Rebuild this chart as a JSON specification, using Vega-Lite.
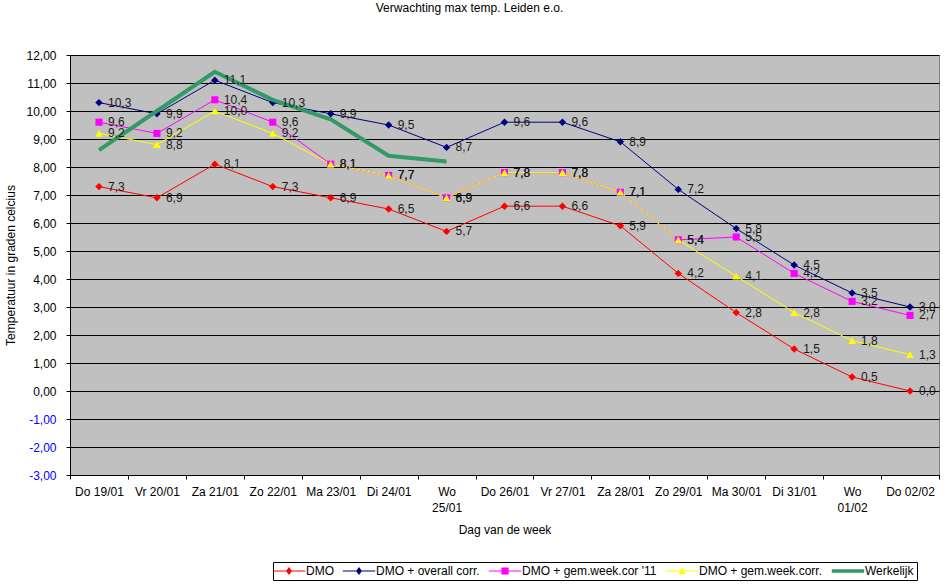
{
  "$schema": "https://vega.github.io/schema/vega-lite/v6.json",
  "autosize": {"type": "none"},
  "width": 869,
  "height": 420,
  "padding": {"left": 70, "top": 55, "right": 10, "bottom": 113},
  "title": {
    "text": "Verwachting max temp. Leiden e.o.",
    "font": "Liberation Sans",
    "fontSize": 12,
    "fontWeight": "normal",
    "color": "black",
    "anchor": "middle",
    "offset": 34,
    "dx": -35
  },
  "datasets": {
    "rows": [
      {"day": "Do 19/01", "series": "DMO", "value": 7.3},
      {"day": "Vr 20/01", "series": "DMO", "value": 6.9},
      {"day": "Za 21/01", "series": "DMO", "value": 8.1},
      {"day": "Zo 22/01", "series": "DMO", "value": 7.3},
      {"day": "Ma 23/01", "series": "DMO", "value": 6.9},
      {"day": "Di 24/01", "series": "DMO", "value": 6.5},
      {"day": "Wo 25/01", "series": "DMO", "value": 5.7},
      {"day": "Do 26/01", "series": "DMO", "value": 6.6},
      {"day": "Vr 27/01", "series": "DMO", "value": 6.6},
      {"day": "Za 28/01", "series": "DMO", "value": 5.9},
      {"day": "Zo 29/01", "series": "DMO", "value": 4.2},
      {"day": "Ma 30/01", "series": "DMO", "value": 2.8},
      {"day": "Di 31/01", "series": "DMO", "value": 1.5},
      {"day": "Wo 01/02", "series": "DMO", "value": 0.5},
      {"day": "Do 02/02", "series": "DMO", "value": 0.0},
      {"day": "Do 19/01", "series": "DMO + overall corr.", "value": 10.3},
      {"day": "Vr 20/01", "series": "DMO + overall corr.", "value": 9.9},
      {"day": "Za 21/01", "series": "DMO + overall corr.", "value": 11.1},
      {"day": "Zo 22/01", "series": "DMO + overall corr.", "value": 10.3},
      {"day": "Ma 23/01", "series": "DMO + overall corr.", "value": 9.9},
      {"day": "Di 24/01", "series": "DMO + overall corr.", "value": 9.5},
      {"day": "Wo 25/01", "series": "DMO + overall corr.", "value": 8.7},
      {"day": "Do 26/01", "series": "DMO + overall corr.", "value": 9.6},
      {"day": "Vr 27/01", "series": "DMO + overall corr.", "value": 9.6},
      {"day": "Za 28/01", "series": "DMO + overall corr.", "value": 8.9},
      {"day": "Zo 29/01", "series": "DMO + overall corr.", "value": 7.2},
      {"day": "Ma 30/01", "series": "DMO + overall corr.", "value": 5.8},
      {"day": "Di 31/01", "series": "DMO + overall corr.", "value": 4.5},
      {"day": "Wo 01/02", "series": "DMO + overall corr.", "value": 3.5},
      {"day": "Do 02/02", "series": "DMO + overall corr.", "value": 3.0},
      {"day": "Do 19/01", "series": "DMO + gem.week.cor '11", "value": 9.6},
      {"day": "Vr 20/01", "series": "DMO + gem.week.cor '11", "value": 9.2},
      {"day": "Za 21/01", "series": "DMO + gem.week.cor '11", "value": 10.4},
      {"day": "Zo 22/01", "series": "DMO + gem.week.cor '11", "value": 9.6},
      {"day": "Ma 23/01", "series": "DMO + gem.week.cor '11", "value": 8.1},
      {"day": "Di 24/01", "series": "DMO + gem.week.cor '11", "value": 7.7},
      {"day": "Wo 25/01", "series": "DMO + gem.week.cor '11", "value": 6.9},
      {"day": "Do 26/01", "series": "DMO + gem.week.cor '11", "value": 7.8},
      {"day": "Vr 27/01", "series": "DMO + gem.week.cor '11", "value": 7.8},
      {"day": "Za 28/01", "series": "DMO + gem.week.cor '11", "value": 7.1},
      {"day": "Zo 29/01", "series": "DMO + gem.week.cor '11", "value": 5.4},
      {"day": "Ma 30/01", "series": "DMO + gem.week.cor '11", "value": 5.5},
      {"day": "Di 31/01", "series": "DMO + gem.week.cor '11", "value": 4.2},
      {"day": "Wo 01/02", "series": "DMO + gem.week.cor '11", "value": 3.2},
      {"day": "Do 02/02", "series": "DMO + gem.week.cor '11", "value": 2.7},
      {"day": "Do 19/01", "series": "DMO + gem.week.corr.", "value": 9.2},
      {"day": "Vr 20/01", "series": "DMO + gem.week.corr.", "value": 8.8},
      {"day": "Za 21/01", "series": "DMO + gem.week.corr.", "value": 10.0},
      {"day": "Zo 22/01", "series": "DMO + gem.week.corr.", "value": 9.2},
      {"day": "Ma 23/01", "series": "DMO + gem.week.corr.", "value": 8.1},
      {"day": "Di 24/01", "series": "DMO + gem.week.corr.", "value": 7.7},
      {"day": "Wo 25/01", "series": "DMO + gem.week.corr.", "value": 6.9},
      {"day": "Do 26/01", "series": "DMO + gem.week.corr.", "value": 7.8},
      {"day": "Vr 27/01", "series": "DMO + gem.week.corr.", "value": 7.8},
      {"day": "Za 28/01", "series": "DMO + gem.week.corr.", "value": 7.1},
      {"day": "Zo 29/01", "series": "DMO + gem.week.corr.", "value": 5.4},
      {"day": "Ma 30/01", "series": "DMO + gem.week.corr.", "value": 4.1},
      {"day": "Di 31/01", "series": "DMO + gem.week.corr.", "value": 2.8},
      {"day": "Wo 01/02", "series": "DMO + gem.week.corr.", "value": 1.8},
      {"day": "Do 02/02", "series": "DMO + gem.week.corr.", "value": 1.3},
      {"day": "Do 19/01", "series": "Werkelijk", "value": 8.6},
      {"day": "Vr 20/01", "series": "Werkelijk", "value": 10.0},
      {"day": "Za 21/01", "series": "Werkelijk", "value": 11.4},
      {"day": "Zo 22/01", "series": "Werkelijk", "value": 10.4},
      {"day": "Ma 23/01", "series": "Werkelijk", "value": 9.7},
      {"day": "Di 24/01", "series": "Werkelijk", "value": 8.4},
      {"day": "Wo 25/01", "series": "Werkelijk", "value": 8.2}
    ],
    "legend": [
      {"series": "DMO"},
      {"series": "DMO + overall corr."},
      {"series": "DMO + gem.week.cor '11"},
      {"series": "DMO + gem.week.corr."},
      {"series": "Werkelijk"}
    ]
  },
  "data": {"name": "rows"},
  "encoding": {
    "x": {
      "field": "day",
      "type": "nominal",
      "sort": null,
      "scale": {
        "type": "band",
        "paddingInner": 0,
        "paddingOuter": 0,
        "domain": ["Do 19/01", "Vr 20/01", "Za 21/01", "Zo 22/01", "Ma 23/01", "Di 24/01", "Wo 25/01", "Do 26/01", "Vr 27/01", "Za 28/01", "Zo 29/01", "Ma 30/01", "Di 31/01", "Wo 01/02", "Do 02/02"]
      },
      "axis": {
        "title": "Dag van de week",
        "labelAngle": 0,
        "tickBand": "extent",
        "tickSize": 4,
        "tickColor": "black",
        "domainColor": "black",
        "labelPadding": 7,
        "labelLineHeight": 16,
        "labelExpr": "indexof(datum.label, 'Wo') == 0 ? split(datum.label, ' ') : datum.label",
        "titlePadding": 11
      }
    },
    "y": {
      "field": "value",
      "type": "quantitative",
      "scale": {"domain": [-3, 12], "nice": false},
      "axis": {
        "title": "Temperatuur in graden celcius",
        "values": [-3, -2, -1, 0, 1, 2, 3, 4, 5, 6, 7, 8, 9, 10, 11, 12],
        "format": ".2f",
        "grid": true,
        "gridColor": "black",
        "gridOpacity": 1,
        "tickSize": 4,
        "tickColor": "black",
        "domainColor": "black",
        "labelPadding": 10,
        "labelColor": {"condition": {"test": "datum.value < 0", "value": "#0000FF"}, "value": "black"},
        "titlePadding": 8
      }
    }
  },
  "layer": [
    {
      "transform": [{"filter": "datum.series != 'Werkelijk'"}],
      "mark": {"type": "line", "strokeWidth": 1},
      "encoding": {
        "color": {
          "field": "series",
          "type": "nominal",
          "sort": null,
          "legend": null,
          "scale": {
            "domain": ["DMO", "DMO + overall corr.", "DMO + gem.week.cor '11", "DMO + gem.week.corr.", "Werkelijk"],
            "range": ["#FF0000", "#000080", "#FF00FF", "#FFFF00", "#339966"]
          }
        }
      }
    },
    {
      "transform": [{"filter": "datum.series == 'DMO'"}],
      "mark": {"type": "point", "shape": "diamond", "filled": true, "opacity": 1, "size": 55, "color": "#FF0000"}
    },
    {
      "transform": [{"filter": "datum.series == 'DMO + overall corr.'"}],
      "mark": {"type": "point", "shape": "diamond", "filled": true, "opacity": 1, "size": 55, "color": "#000080"}
    },
    {
      "transform": [{"filter": "datum.series == \"DMO + gem.week.cor '11\""}],
      "mark": {"type": "point", "shape": "square", "filled": true, "opacity": 1, "size": 50, "color": "#FF00FF"}
    },
    {
      "transform": [{"filter": "datum.series == 'DMO + gem.week.corr.'"}],
      "mark": {"type": "point", "shape": "triangle-up", "filled": true, "opacity": 1, "size": 60, "color": "#FFFF00"}
    },
    {
      "transform": [{"filter": "datum.series == 'Werkelijk'"}],
      "mark": {"type": "line", "strokeWidth": 4, "color": "#339966"}
    },
    {
      "transform": [{"filter": "datum.series != 'Werkelijk'"}],
      "mark": {"type": "text", "align": "left", "baseline": "middle", "dx": 9, "font": "Liberation Sans", "fontSize": 12, "color": "#1a1a1a"},
      "encoding": {
        "text": {"field": "value", "type": "quantitative", "format": ".1f"}
      }
    },
    {
      "data": {"name": "legend"},
      "mark": {"type": "point", "filled": true, "size": 0, "strokeWidth": 0, "opacity": 1},
      "encoding": {
        "x": {"value": 0},
        "y": {"value": 0},
        "color": {
          "field": "series",
          "type": "nominal",
          "sort": null,
          "scale": {
            "domain": ["DMO", "DMO + overall corr.", "DMO + gem.week.cor '11", "DMO + gem.week.corr.", "Werkelijk"],
            "range": ["#FF0000", "#000080", "#FF00FF", "#FFFF00", "#339966"]
          },
          "legend": {
            "title": null,
            "orient": "none",
            "direction": "horizontal",
            "columns": 5,
            "legendX": 203,
            "legendY": 507,
            "strokeColor": "black",
            "fillColor": "white",
            "padding": 3,
            "symbolSize": 144,
            "symbolOffset": 7,
            "symbolOpacity": 1,
            "symbolStrokeWidth": 0,
            "labelFont": "Liberation Sans",
            "labelFontSize": 12,
            "labelColor": "black",
            "labelOffset": 11,
            "columnPadding": 8,
            "labelLimit": 300
          }
        },
        "shape": {
          "field": "series",
          "type": "nominal",
          "sort": null,
          "scale": {
            "domain": ["DMO", "DMO + overall corr.", "DMO + gem.week.cor '11", "DMO + gem.week.corr.", "Werkelijk"],
            "range": [
              "M-2.7,-0.085H2.7V0.085H-2.7Z M0,-0.67L0.5,0L0,0.67L-0.5,0Z",
              "M-2.7,-0.085H2.7V0.085H-2.7Z M0,-0.67L0.5,0L0,0.67L-0.5,0Z",
              "M-2.7,-0.085H2.7V0.085H-2.7Z M-0.6,-0.6H0.6V0.6H-0.6Z",
              "M-2.7,-0.085H2.7V0.085H-2.7Z M0,-0.67L0.62,0.5L-0.62,0.5Z",
              "M-2.7,-0.3H2.7V0.3H-2.7Z"
            ]
          }
        }
      }
    }
  ],
  "resolve": {"scale": {"color": "independent", "shape": "independent"}, "legend": {"color": "independent", "shape": "independent"}},
  "config": {
    "locale": {
      "number": {"decimal": ",", "thousands": ".", "grouping": [3], "currency": ["€", ""], "minus": "-"}
    },
    "view": {"fill": "#C0C0C0", "stroke": "#808080", "strokeWidth": 1},
    "axis": {
      "labelFont": "Liberation Sans",
      "labelFontSize": 12,
      "labelColor": "black",
      "titleFont": "Liberation Sans",
      "titleFontSize": 12,
      "titleFontWeight": "normal",
      "titleColor": "black",
      "grid": false
    }
  }
}
